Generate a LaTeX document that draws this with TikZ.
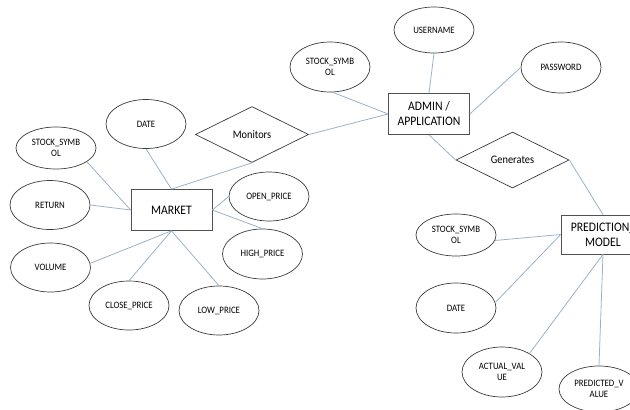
\documentclass[tikz,border=0pt]{standalone}
\usepackage{fontspec}
\setmainfont{Carlito}[FakeStretch=0.9]
\usetikzlibrary{shapes.geometric}
\definecolor{linkc}{RGB}{155,178,200}
\definecolor{edgec}{RGB}{60,60,60}
\tikzset{
  attr/.style={ellipse, draw=edgec, line width=0.7pt, minimum width=80pt, minimum height=49pt, inner sep=0pt, align=center, font=\fontsize{9.8}{10.5}\selectfont},
  entity/.style={rectangle, draw=edgec!90, line width=0.7pt, minimum width=81pt, minimum height=41pt, inner sep=0pt, align=center, font=\fontsize{13}{15}\selectfont},
  rel/.style={diamond, draw=edgec, line width=0.7pt, minimum width=113pt, minimum height=56pt, inner sep=0pt, aspect=2, font=\fontsize{11.5}{13}\selectfont},
  link/.style={draw=linkc, line width=0.8pt}
}
\begin{document}
\begin{tikzpicture}[x=1pt,y=-1pt]
\useasboundingbox (0,0) rectangle (630,410);
\clip (0,0) rectangle (630,410);
% entities
\node[entity] (admin) at (429,114) {ADMIN /\\APPLICATION};
\node[entity] (market) at (171.5,210) {MARKET};
\node[entity, minimum width=84pt, minimum height=39pt] (pred) at (603,234.5) {PREDICTION\_\\MODEL};
% relationships
\node[rel] (mon) at (252,134.5) {Monitors};
\node[rel] (gen) at (512.5,160) {Generates};
% admin attributes
\node[attr, minimum height=50pt] (ssa) at (330,67) {STOCK\_SYMB\\OL};
\node[attr, minimum height=46pt] (user) at (434,30) {USERNAME};
\node[attr, minimum height=51pt] (pass) at (561,67.5) {PASSWORD};
% market attributes
\node[attr] (datem) at (146,124) {DATE};
\node[attr, minimum height=42pt] (ssm) at (56,148) {STOCK\_SYMB\\OL};
\node[attr] (ret) at (50,205) {RETURN};
\node[attr] (open) at (269,196.5) {OPEN\_PRICE};
\node[attr, minimum height=50pt] (high) at (262.5,254) {HIGH\_PRICE};
\node[attr] (vol) at (50.5,267.5) {VOLUME};
\node[attr] (close) at (129,305.5) {CLOSE\_PRICE};
\node[attr] (low) at (219,310.5) {LOW\_PRICE};
% prediction attributes
\node[attr, minimum height=42pt] (ssp) at (456,235) {STOCK\_SYMB\\OL};
\node[attr, minimum height=50pt] (datep) at (456,308) {DATE};
\node[attr, minimum height=50pt] (act) at (502,372) {ACTUAL\_VAL\\UE};
\node[attr, minimum height=46pt] (pv) at (599,389) {PREDICTED\_V\\ALUE};
% connectors
\draw[link] (ssa.-84) -- (admin.west);
\draw[link] (mon.east) -- (admin.west);
\draw[link] (user.south) -- (admin.north);
\draw[link] (pass.west) -- (admin.east);
\draw[link] (admin.south) -- (gen.west);
\draw[link] (gen.east) -- (pred.north);
\draw[link] (mon.south) -- (market.north);
\draw[link] (datem.south) -- (market.north);
\draw[link] (ssm.-24) -- (market.west);
\draw[link] (ret.east) -- (market.west);
\draw[link] (vol.6) -- (market.south);
\draw[link] (close.north) -- (market.south);
\draw[link] (low.north) -- (market.south);
\draw[link] (high.north) -- (market.east);
\draw[link] (open.west) -- (market.east);
\draw[link] (ssp.-8) -- (pred.west);
\draw[link] (datep.8) -- (pred.west);
\draw[link] (act.34) -- (pred.south);
\draw[link] (pv.north) -- (pred.south);
\end{tikzpicture}
\end{document}
